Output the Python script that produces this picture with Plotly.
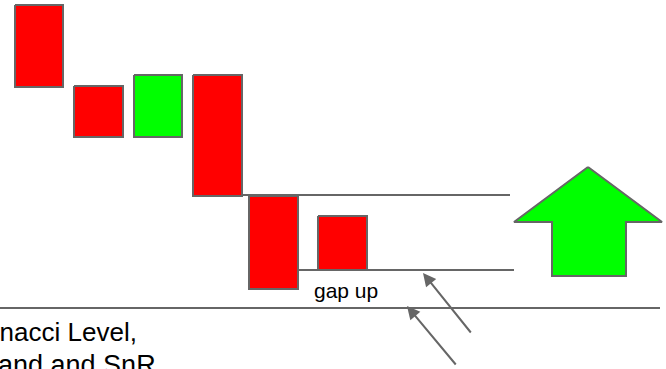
import plotly.graph_objs as go

# Candle boxes (diagram units, y grows downward)
candle_left = [15, 74, 134, 193, 249, 318]
candle_right = [63, 123, 182, 242, 298, 367]
candle_top = [5, 86, 75, 75, 196, 216]
candle_bottom = [87, 137, 137, 196, 289, 270]
candle_kind = ['down', 'down', 'up', 'down', 'down', 'down']

# Horizontal levels
level_y = [195, 270, 308]
level_x0 = [242, 290, 0]
level_x1 = [510, 514, 660]

# Big up arrow outline
arrow_x = [588, 662, 626, 626, 552, 552, 514, 588]
arrow_y = [167, 222, 222, 276, 276, 222, 222, 167]

# Small pointer arrows: tail -> head
ptr_tail_x = [472, 457]
ptr_tail_y = [334, 366]
ptr_head_x = [423, 407]
ptr_head_y = [273, 306]

colors = {'down': '#ff0000', 'up': '#00ff00'}
edge = '#666666'

fig = go.Figure()

# Levels first so candles sit on top
for y, x0, x1 in zip(level_y, level_x0, level_x1):
    fig.add_trace(go.Scatter(x=[x0, x1], y=[y, y], mode='lines',
                             line=dict(color=edge, width=2), hoverinfo='skip'))

# Candles
for l, r, t, b, k in zip(candle_left, candle_right, candle_top, candle_bottom, candle_kind):
    fig.add_trace(go.Scatter(x=[l, r, r, l, l], y=[t, t, b, b, t], mode='lines',
                             fill='toself', fillcolor=colors[k],
                             line=dict(color=edge, width=2), hoverinfo='skip'))

# Big arrow
fig.add_trace(go.Scatter(x=arrow_x, y=arrow_y, mode='lines', fill='toself',
                         fillcolor='#00ff00', line=dict(color=edge, width=2),
                         hoverinfo='skip'))

# Pointer arrows
for tx, ty, hx, hy in zip(ptr_tail_x, ptr_tail_y, ptr_head_x, ptr_head_y):
    fig.add_annotation(x=hx, y=hy, ax=tx, ay=ty, xref='x', yref='y',
                       axref='x', ayref='y', text='', showarrow=True,
                       arrowhead=2, arrowsize=1.3, arrowwidth=2, arrowcolor=edge)

font = dict(family='Arial, Liberation Sans, sans-serif', color='#000000')

fig.add_annotation(x=312, y=290, xref='x', yref='y', text='gap up', showarrow=False,
                   xanchor='left', yanchor='middle', font=dict(size=21, **font))
# bottom caption is cropped on the left (and bottom) in the original diagram
fig.add_annotation(x=139, y=332, xref='x', yref='y', text='Fibonacci Level,', showarrow=False,
                   xanchor='right', yanchor='middle', font=dict(size=26, **font))
fig.add_annotation(x=158, y=365, xref='x', yref='y', text='Band and SnR', showarrow=False,
                   xanchor='right', yanchor='middle', font=dict(size=27, **font))

fig.update_layout(width=666, height=369, margin=dict(l=0, r=0, t=0, b=0),
                  showlegend=False, plot_bgcolor='white', paper_bgcolor='white',
                  xaxis=dict(range=[0, 666], visible=False, fixedrange=True),
                  yaxis=dict(range=[369, 0], visible=False, fixedrange=True))

fig.write_html("out.html", config={'displayModeBar': False},
               post_script="document.body.style.margin='0';document.body.style.overflow='hidden';")
